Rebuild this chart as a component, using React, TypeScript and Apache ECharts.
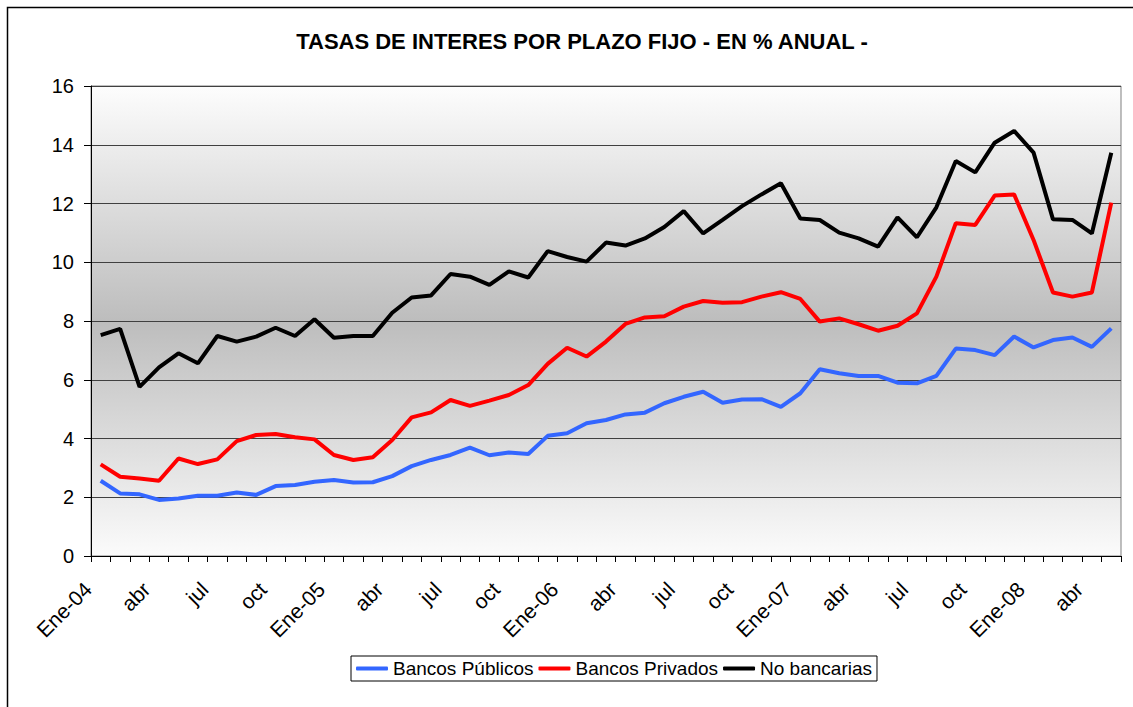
import React, { useEffect, useRef } from "react";
import * as echarts from "echarts";

const monthNames = ["Ene", "feb", "mar", "abr", "may", "jun", "jul", "ago", "sep", "oct", "nov", "dic"];
const years = ["04", "05", "06", "07", "08"];
const categories: string[] = [];
for (let y = 0; y < years.length; y++) {
  for (let m = 0; m < 12; m++) {
    if (y === 4 && m > 4) break;
    categories.push(m === 0 ? `Ene-${years[y]}` : monthNames[m]);
  }
}

const bancosPublicos = [
  2.56, 2.13, 2.1, 1.91, 1.96, 2.05, 2.05, 2.16, 2.08, 2.38, 2.42, 2.53,
  2.59, 2.5, 2.51, 2.72, 3.06, 3.27, 3.44, 3.69, 3.43, 3.52, 3.47, 4.09,
  4.18, 4.52, 4.63, 4.82, 4.88, 5.2, 5.42, 5.59, 5.22, 5.33, 5.34, 5.08,
  5.54, 6.36, 6.22, 6.13, 6.13, 5.9, 5.88, 6.13, 7.06, 7.01, 6.84, 7.47,
  7.1, 7.35, 7.44, 7.12, 7.75,
];
const bancosPrivados = [
  3.12, 2.7, 2.64, 2.56, 3.32, 3.13, 3.29, 3.91, 4.12, 4.15, 4.04, 3.97,
  3.44, 3.27, 3.36, 3.95, 4.72, 4.89, 5.31, 5.11, 5.29, 5.48, 5.82, 6.54,
  7.09, 6.79, 7.3, 7.9, 8.12, 8.16, 8.49, 8.68, 8.62, 8.64, 8.83, 8.98,
  8.75, 7.98, 8.09, 7.89, 7.67, 7.84, 8.26, 9.51, 11.33, 11.27, 12.27, 12.31,
  10.76, 8.97, 8.83, 8.97, 12.03,
];
const noBancarias = [
  7.52, 7.73, 5.76, 6.42, 6.9, 6.56, 7.49, 7.3, 7.47, 7.77, 7.49, 8.06,
  7.43, 7.49, 7.49, 8.28, 8.8, 8.87, 9.6, 9.51, 9.23, 9.69, 9.48, 10.38,
  10.18, 10.02, 10.67, 10.57, 10.81, 11.2, 11.74, 10.98, 11.44, 11.91, 12.31, 12.69,
  11.49, 11.44, 11.01, 10.81, 10.53, 11.53, 10.85, 11.87, 13.45, 13.06, 14.07, 14.47,
  13.73, 11.46, 11.44, 10.98, 13.73,
];

const FONT = "'Liberation Sans', Arial, sans-serif";

export default function App() {
  const ref = useRef<HTMLDivElement>(null);
  useEffect(() => {
    if (!ref.current) return;
    const chart = echarts.init(ref.current, undefined, { renderer: "svg" });
    chart.setOption({
      animation: false,
      backgroundColor: "#ffffff",
      textStyle: { fontFamily: FONT },
      title: {
        text: "TASAS DE INTERES POR PLAZO FIJO - EN % ANUAL -",
        left: 577,
        textAlign: "center",
        top: 25,
        textStyle: { fontFamily: FONT, fontSize: 22, fontWeight: "bold", color: "#000" },
      },
      graphic: [
        {
          type: "rect",
          shape: { x: 7.5, y: 7.5, width: 1140, height: 720 },
          style: { fill: "none", stroke: "#000", lineWidth: 1.5 },
          silent: true,
          z: 100,
        },
      ],
      legend: {
        left: 351,
        top: 656,
        data: ["Bancos Públicos", "Bancos Privados", "No bancarias"],
        icon: "roundRect",
        itemWidth: 32,
        itemHeight: 4,
        itemGap: 5,
        padding: [3, 5, 3, 5],
        borderColor: "#000",
        borderWidth: 1,
        borderRadius: 0,
        textStyle: { fontFamily: FONT, fontSize: 19, color: "#000" },
      },
      grid: {
        left: 91,
        right: 12,
        top: 86,
        bottom: 151,
        show: true,
        borderColor: "#808080",
        borderWidth: 1,
        backgroundColor: {
          type: "linear",
          x: 0,
          y: 0,
          x2: 0,
          y2: 1,
          colorStops: [
            { offset: 0, color: "#fdfdfd" },
            { offset: 0.5, color: "#bdbdbd" },
            { offset: 1, color: "#fbfbfb" },
          ],
        },
      },
      xAxis: {
        type: "category",
        data: categories,
        boundaryGap: true,
        axisLine: { lineStyle: { color: "#000", width: 1 } },
        axisTick: { show: true, interval: 0, length: 6, lineStyle: { color: "#000" } },
        axisLabel: {
          interval: 2,
          rotate: 45,
          margin: 17,
          padding: [0, 18, 0, 0],
          fontFamily: FONT,
          fontSize: 21,
          color: "#000",
        },
        splitLine: { show: false },
      },
      yAxis: {
        type: "value",
        min: 0,
        max: 16,
        interval: 2,
        axisLine: { show: true, lineStyle: { color: "#000", width: 1 } },
        axisTick: { show: true, length: 7, lineStyle: { color: "#000" } },
        axisLabel: { fontFamily: FONT, fontSize: 20, color: "#000", margin: 17 },
        splitLine: { show: true, lineStyle: { color: "#404040", width: 1 } },
      },
      series: [
        {
          name: "Bancos Públicos",
          type: "line",
          data: bancosPublicos,
          symbol: "none",
          lineStyle: { color: "#3366ff", width: 4 },
          itemStyle: { color: "#3366ff" },
        },
        {
          name: "Bancos Privados",
          type: "line",
          data: bancosPrivados,
          symbol: "none",
          lineStyle: { color: "#ff0000", width: 4 },
          itemStyle: { color: "#ff0000" },
        },
        {
          name: "No bancarias",
          type: "line",
          data: noBancarias,
          symbol: "none",
          lineStyle: { color: "#000000", width: 4 },
          itemStyle: { color: "#000000" },
        },
      ],
    });
    return () => chart.dispose();
  }, []);
  return (
    <div
      ref={ref}
      style={{ position: "fixed", left: 0, top: 0, width: 1133, height: 707 }}
    />
  );
}
